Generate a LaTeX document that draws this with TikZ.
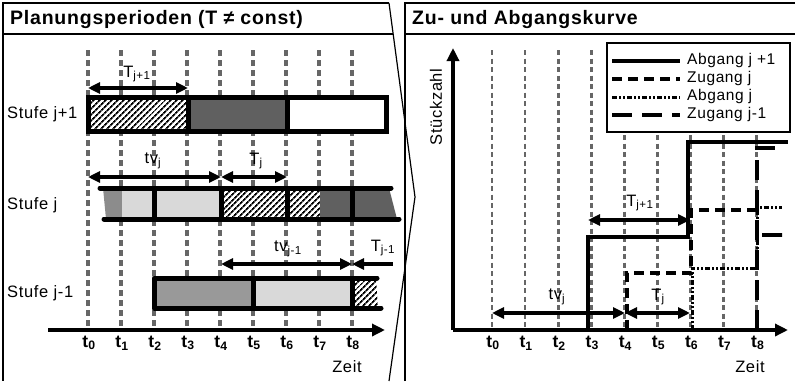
\documentclass[tikz,border=0pt]{standalone}
\usepackage{fontspec}
\setmainfont{Liberation Sans}[LetterSpace=4]
\usetikzlibrary{arrows.meta,patterns.meta}

\definecolor{gridgray}{HTML}{666666}
\definecolor{darkfill}{HTML}{606060}
\definecolor{midfill}{HTML}{999999}
\definecolor{lightfill}{HTML}{8C8C8C}
\definecolor{dotbg}{HTML}{E2E2E2}

\tikzset{
  frame/.style={line width=1.2pt, line join=miter},
  gridline/.style={gridgray, line width=3.3pt, dash pattern=on 6pt off 4pt},
  gridlineR/.style={gridgray, line width=2.7pt, dash pattern=on 5pt off 3.5pt},
  barline/.style={line width=5pt, line cap=round, line join=round},
  divider/.style={line width=5pt},
  hatchfill/.style={preaction={fill=white}, pattern={Lines[angle=45,distance=4pt,line width=1.8pt]}},
  dotfill/.style={preaction={fill=dotbg}, pattern={Dots[distance=2pt,radius=0.45pt]}, pattern color=gray},
  dimarrow/.style={line width=3.2pt, {Triangle[length=12pt,width=11pt]}-{Triangle[length=12pt,width=11pt]}},
  leftarrow/.style={line width=3.2pt, {Triangle[length=12pt,width=11pt]}-},
  axis/.style={line width=3.8pt, -{Triangle[length=13pt,width=12pt]}},
  title/.style={font=\fontsize{19.5}{22}\selectfont\bfseries, anchor=west, inner sep=0pt},
  lbl/.style={font=\fontsize{16.5}{19}\selectfont, inner sep=0pt},
  tlbl/.style={font=\fontsize{17.5}{20}\selectfont\bfseries, inner sep=0pt},
  legtext/.style={font=\fontsize{15.5}{18}\selectfont, anchor=west, inner sep=0pt},
  abgangJp/.style={line width=4.2pt},
  zugangJ/.style={line width=3.2pt, dash pattern=on 10pt off 6pt},
  abgangJ/.style={line width=3pt, dash pattern=on 5pt off 2pt on 2pt off 2pt on 2pt off 2pt},
  zugangJm/.style={line width=4.2pt, dash pattern=on 20pt off 10pt},
}

\begin{document}
\begin{tikzpicture}[x=1pt,y=-1pt]
\useasboundingbox (0,0) rectangle (795,381);

% ---------- frames ----------
\draw[frame] (389,3) -- (3,3) -- (3,381);
\draw[frame] (3,34) -- (393,34);
\draw[frame] (389,3) -- (415,197) -- (389,381);
\draw[frame] (405,381) -- (405,3) -- (795,3);
\draw[frame] (405,34) -- (795,34);

\node[title] (titleL) at (10,19) {Planungsperioden (T ≠ const)};
\node[title] (titleR) at (412,19) {Zu- und Abgangskurve};

% ---------- left panel: time grid ----------
\foreach \i in {0,...,8} {
  \draw[gridline] ({88+33*\i},50) -- ({88+33*\i},330);
  \node[tlbl] (lt\i) at ({89+33*\i},343) {t\textsubscript{\i}};
}
\draw[axis] (48,330) -- (385,330);
\node[lbl] (zeitL) at (347,367) {Zeit};

% ---------- Stufe j+1 ----------
\fill[hatchfill] (88,97) rectangle (188,131);
\fill[darkfill] (188,97) rectangle (287,131);
\fill[white] (287,97) rectangle (386,131);
\draw[barline, line cap=butt, line join=miter] (88,97) rectangle (386,131);
\draw[divider] (188,97) -- (188,131);
\draw[divider] (287,97) -- (287,131);
\node[lbl, anchor=west] (stufeJp) at (7,114) {Stufe j+1};

\draw[dimarrow] (88,88) -- (188,88);
\node[lbl] (TJp) at (137,74) {T\textsubscript{j+1}};

% ---------- Stufe j ----------
\fill[lightfill] (103,188) -- (122,188) -- (122,219) -- (106,219) -- cycle;
\fill[dotfill] (122,188) rectangle (221,219);
\fill[hatchfill] (221,188) rectangle (320,219);
\fill[darkfill] (320,188) -- (389,188) -- (397,219) -- (320,219) -- cycle;
\draw[barline] (100,188) -- (391,188);
\draw[barline] (104,219) -- (399,219);
\foreach \x in {154,221,287,352} \draw[divider] (\x,188) -- (\x,219);
\node[lbl, anchor=west] (stufeJ) at (7,205) {Stufe j};

\draw[dimarrow] (88,177) -- (221,177);
\draw[dimarrow] (221,177) -- (287,177);
\node[lbl] (tvJ) at (153,161) {tv\textsubscript{j}};
\node[lbl] (TJ) at (256,161) {T\textsubscript{j}};

% ---------- Stufe j-1 ----------
\fill[midfill] (154,278) rectangle (253,308);
\fill[dotfill] (253,278) rectangle (352,308);
\fill[hatchfill] (352,278) -- (376,278) -- (378,308) -- (352,308) -- cycle;
\draw[barline] (377,278) -- (154,278) -- (154,308) -- (381,308);
\draw[divider] (253,278) -- (253,308);
\draw[divider] (352,278) -- (352,308);
\node[lbl, anchor=west] (stufeJm) at (7,293) {Stufe j-1};

\draw[dimarrow] (221,264) -- (352,264);
\draw[leftarrow] (352,264) -- (393,264);
\node[lbl] (tvJm) at (288,249) {tv\textsubscript{j-1}};
\node[lbl] (TJm) at (383,248) {T\textsubscript{j-1}};

% ---------- right panel: grid and axes ----------
\foreach \i in {0,...,8} {
  \draw[gridlineR] ({492+33.1*\i},50) -- ({492+33.1*\i},330);
  \node[tlbl] (rt\i) at ({493+33.1*\i},343) {t\textsubscript{\i}};
}
\node[lbl] (zeitR) at (750,367) {Zeit};
\node[lbl, rotate=90] (stk) at (436,107) {Stückzahl};

% legend
\draw[line width=2.2pt, fill=white] (607,43) rectangle (790,132);
\draw[abgangJp] (612,61) -- (680,61);
\node[legtext] (l1) at (687,60) {Abgang j +1};
\draw[zugangJ] (612,79) -- (680,79);
\node[legtext] (l2) at (687,78) {Zugang j};
\draw[abgangJ] (612,97) -- (680,97);
\node[legtext] (l3) at (687,96) {Abgang j};
\draw[zugangJm] (612,115) -- (680,115);
\node[legtext] (l4) at (687,114) {Zugang j-1};

% curves
\draw[abgangJp] (588,330) -- (588,237) -- (688,237) -- (688,142) -- (788,142);
\draw[zugangJ] (627,330) -- (627,273) -- (691,273) -- (691,210) -- (757,210);
\draw[abgangJ] (692,330) -- (692,268) -- (757,268) -- (757,207) -- (782,207);
\draw[zugangJm] (757,330) -- (757,148) -- (778,148);
\draw[zugangJm, dash pattern=on 20pt off 0pt] (762,235) -- (782,235);

\draw[axis] (453,330) -- (788,330);
\draw[axis] (453,330) -- (453,48);

% period arrows
\draw[dimarrow] (588,220) -- (690,220);
\node[lbl] (TJpR) at (640,203) {T\textsubscript{j+1}};
\draw[dimarrow] (492,313) -- (625,313);
\draw[dimarrow] (625,313) -- (690,313);
\node[lbl] (tvJR) at (557,297) {tv\textsubscript{j}};
\node[lbl] (TJR) at (658,297) {T\textsubscript{j}};

\end{tikzpicture}
\end{document}
